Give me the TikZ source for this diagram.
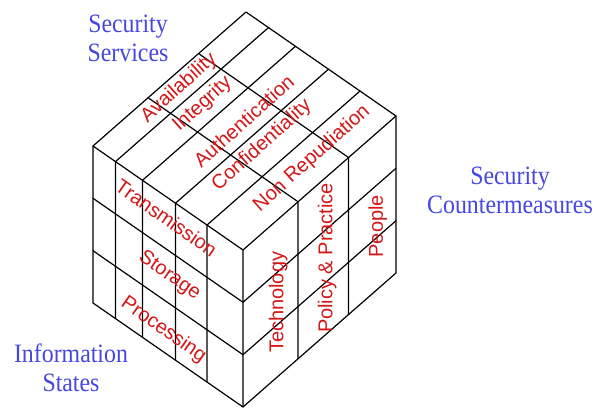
\documentclass[tikz,border=0pt]{standalone}
\usepackage{fontspec}
\setmainfont{Liberation Serif}
\newfontfamily\titlefont[FakeStretch=0.9]{Liberation Serif}
\newfontfamily\cellfont{Liberation Sans}
\usetikzlibrary{positioning}
\definecolor{titleblue}{RGB}{70,70,225}
\definecolor{cellred}{RGB}{212,22,22}

\begin{document}
\begin{tikzpicture}[
    x={(153pt,134pt)},
    y={(0pt,157pt)},
    z={(-150pt,104pt)},
    edge/.style={line width=1.2pt, line join=round, line cap=round},
    title/.style={text=titleblue, font=\titlefont\fontsize{26.5}{29}\selectfont, align=center, inner sep=0pt, anchor=north},
    cell/.style={text=cellred, font=\cellfont\fontsize{20}{20}\selectfont, inner sep=0pt},
    top label/.style={cell, rotate=42},
    side label/.style={cell, rotate=-35},
    front label/.style={cell, rotate=90}
]
    \useasboundingbox (-243pt,-3pt) rectangle (352pt,407pt);

    % outline of the cube
    \draw[edge] (0,0,0) -- (1,0,0) -- (1,1,0) -- (1,1,1) -- (0,1,1) -- (0,0,1) -- cycle;
    \draw[edge] (0,0,0) -- (0,1,0) -- (1,1,0);
    \draw[edge] (0,1,0) -- (0,1,1);

    % grid lines
    \foreach \u in {0.333,0.667}
        \draw[edge] (0,\u,1) -- (0,\u,0) -- (1,\u,0);
    \foreach \l in {0.24,0.45,0.67,0.85}
        \draw[edge] (0,0,\l) -- (0,1,\l) -- (1,1,\l);
    \foreach \r in {0.36,0.69}
        \draw[edge] (\r,0,0) -- (\r,1,0) -- (\r,1,1);

    % security services
    \node[top label] (avail) at (0.49,1,0.926) {Availability};
    \node[top label] (integ) at (0.49,1,0.77) {Integrity};
    \node[top label] (authen) at (0.54,1,0.546) {Authentication};
    \node[top label] (confid) at (0.49,1,0.374) {Confidentiality};
    \node[top label] (nonrep) at (0.58,1,0.132) {Non Repudiation};

    % information states
    \node[side label] (trans) at (0,0.866,0.51) {Transmission};
    \node[side label] (stor) at (0,0.51,0.49) {Storage};
    \node[side label] (proc) at (0,0.14,0.53) {Processing};

    % countermeasures
    \node[front label] (tech) at (0.23,0.47,0) {Technology};
    \node[front label] (policy) at (0.55,0.48,0) {Policy \& Practice};
    \node[front label] (people) at (0.88,0.40,0) {People};

    \node[title] (services) at (-115pt,392pt) {Security\\Services};
    \node[title] (measures) at (267pt,240pt) {Security\\Countermeasures};
    \node[title] (states) at (-172pt,63pt) {Information\\States};
\end{tikzpicture}
\end{document}
